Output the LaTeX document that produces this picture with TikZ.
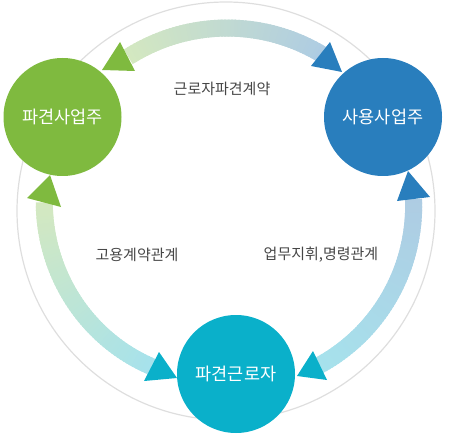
\documentclass[tikz,border=0pt]{standalone}
\usepackage{fontspec}
\newfontfamily\kr{Noto Sans CJK KR}
\definecolor{cgreen}{RGB}{127,186,63}
\definecolor{cblue}{RGB}{41,126,189}
\definecolor{ccyan}{RGB}{10,176,202}
\definecolor{lgreen}{RGB}{212,232,192}
\definecolor{lblue}{RGB}{174,204,227}
\definecolor{lcyan}{RGB}{166,226,236}
\definecolor{ltext}{RGB}{70,70,70}
\definecolor{ring}{RGB}{222,222,222}
\newcommand\gradband[6]{%
  \foreach \i in {0,...,59}{%
    \pgfmathsetmacro\ta{#1+(#2-#1)*\i/60}%
    \pgfmathsetmacro\tb{#1+(#2-#1)*(\i+1.6)/60}%
    \pgfmathsetmacro\ra{#3+(#4-#3)*\i/60}%
    \pgfmathsetmacro\rb{#3+(#4-#3)*(\i+1.6)/60}%
    \pgfmathtruncatemacro\pc{100*(\i+0.5)/60}%
    \colorlet{bandc}{#6!\pc!#5}%
    \draw[line width=17pt, bandc] ({229+\ra*cos(\ta)},{212-\ra*sin(\ta)}) -- ({229+\rb*cos(\tb)},{212-\rb*sin(\tb)});
  }}
\begin{document}
\begin{tikzpicture}[x=1pt,y=-1pt,
  party/.style={circle, minimum size=118pt, inner sep=0pt, text=white, font=\kr\fontsize{17.5}{20}\selectfont},
  rel/.style={text=ltext, font=\kr\fontsize{15}{17}\selectfont, inner sep=0pt}]
\path[use as bounding box] (0,0) rectangle (454,446);
% background ring
\draw[ring, line width=1.2pt] (226,211) circle[radius=209];
% gradient bands
\gradband{123}{60}{185}{183}{lgreen}{lblue}
\gradband{177}{243}{185}{173}{lgreen}{lcyan}
\gradband{4}{-59}{185}{178}{lblue}{lcyan}
% arrowheads
\fill[cgreen] (120,42) -- (135,71) -- (102,70) -- cycle;
\fill[cblue] (330,42) -- (311,66) -- (342,72) -- cycle;
\fill[cgreen] (50,175) -- (27,198) -- (61,207) -- cycle;
\fill[cblue] (408,171) -- (397,201) -- (430,197) -- cycle;
\fill[ccyan] (159,352) -- (144,381) -- (177,378) -- cycle;
\fill[ccyan] (313,351) -- (327,380) -- (297,376) -- cycle;
% parties
\node[party, fill=cgreen] (disp) at (62.5,117) {파견사업주};
\node[party, fill=cblue] (user) at (383,117) {사용사업주};
\node[party, fill=ccyan] (work) at (236,374) {파견근로자};
% relation labels
\node[rel] (l1) at (222,89) {근로자파견계약};
\node[rel] (l2) at (137,255) {고용계약관계};
\node[rel] (l3) at (321,255) {업무지휘,명령관계};
\end{tikzpicture}
\end{document}
